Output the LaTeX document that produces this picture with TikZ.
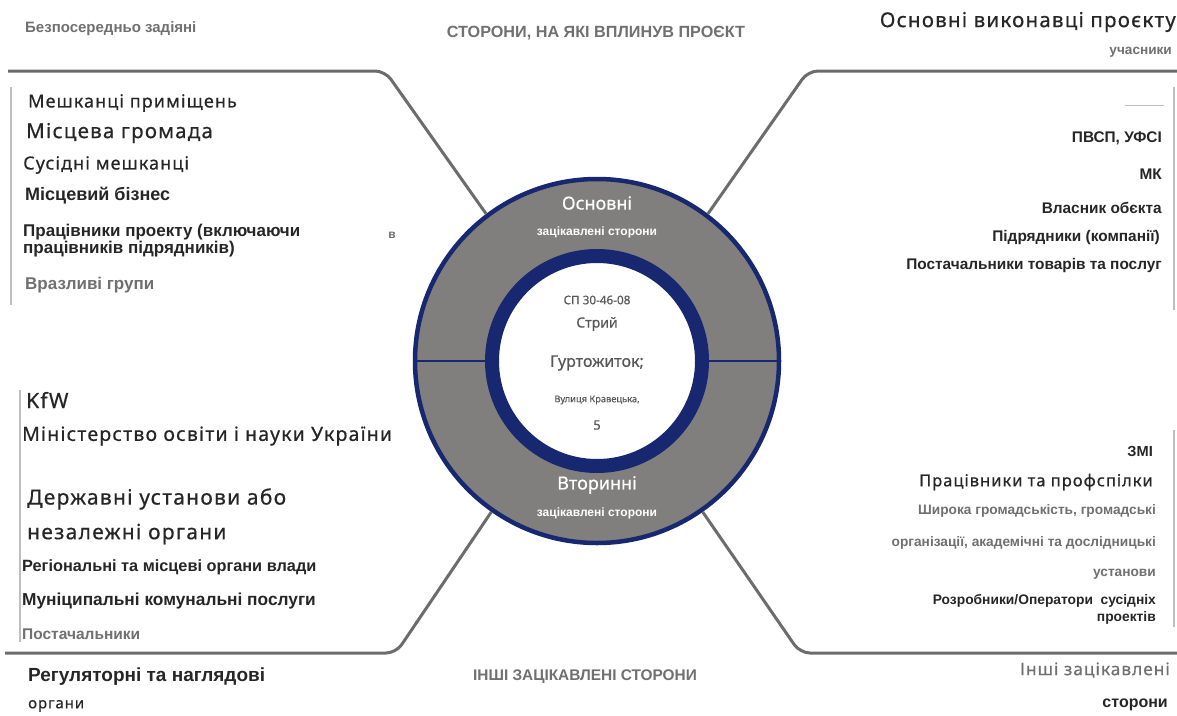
\documentclass[tikz,border=0pt]{standalone}
\usepackage{fontspec}
\setmainfont{Liberation Sans}
\newfontfamily\roundsans[FakeBold=0.4]{Noto Sans}
\newfontfamily\widesans[LetterSpace=6,FakeBold=0.5]{Noto Sans}
\newcommand\fsz[1]{\fontsize{#1}{#1}\selectfont}
\definecolor{navy}{RGB}{24,40,112}
\definecolor{ringgray}{RGB}{128,127,126}
\definecolor{linkgray}{RGB}{108,108,108}
\definecolor{softgray}{RGB}{112,112,112}
\definecolor{darktext}{RGB}{38,38,38}
\definecolor{midtext}{RGB}{88,88,88}
\definecolor{bargray}{RGB}{190,190,190}
\tikzset{
  link/.style={draw=linkgray, line width=3pt, rounded corners=10pt},
  bar/.style={draw=bargray, line width=1.8pt},
  item/.style={inner sep=0pt, text=darktext, font=\bfseries\fsz{15.4}},
  soft/.style={item, text=softgray},
  round/.style={inner sep=0pt, text=darktext, font=\widesans\fsz{#1}},
  inring/.style={inner sep=0pt, text=white, font=\roundsans\fsz{18}},
  subring/.style={inner sep=0pt, text=white, font=\bfseries\fsz{12}},
  core/.style={inner sep=0pt, text=midtext, font=\roundsans\fsz{#1}}
}
\begin{document}
\begin{tikzpicture}[x=1pt,y=-1pt]
\useasboundingbox[fill=white] (0,0) rectangle (1177,715);

\node[circle, draw=navy, line width=4.5pt, fill=ringgray, minimum size=364pt, inner sep=0pt] (ring) at (597,361) {};
\draw[navy, line width=1.2pt] (ring.west) -- (ring.east);
\node[circle, draw=navy, line width=14pt, fill=white, minimum size=210pt, inner sep=0pt] (hub) at (597,361) {};

\coordinate (tl) at (385,71);
\coordinate (tr) at (808,71);
\coordinate (bl) at (396,653);
\coordinate (br) at (800,653);
\draw[link] (ring.127) -- (tl) -- (8,71);
\draw[link] (ring.53) -- (tr) -- (1177,71);
\draw[link] (ring.235) -- (bl) -- (5,653);
\draw[link] (ring.305) -- (br) -- (1177,653);

\draw[bar] (11,87) -- (11,305);
\draw[bar] (20,390) -- (20,642);
\draw[bar] (1174,87) -- (1174,310);
\draw[bar] (1174,430) -- (1174,627);
\draw[bargray, line width=0.8pt] (1125,105) -- (1164,105);

% headers
\node[soft, font=\bfseries\fsz{15}, anchor=west] (direct) at (25,29) {Безпосередньо задіяні};
\node[soft, font=\bfseries\fsz{16.2}] (affected) at (596,33) {СТОРОНИ, НА ЯКІ ВПЛИНУВ ПРОЄКТ};
\node[round=20.5, anchor=east] (mainexec) at (1176,22) {Основні виконавці проєкту};
\node[soft, font=\bfseries\fsz{13.6}, anchor=east] (partic) at (1172,52) {учасники};

% ring
\node[inring] (primary) at (597,203) {Основні};
\node[subring] (primsub) at (597,232) {зацікавлені сторони};
\node[core=11.7] (code) at (597,300) {СП 30-46-08};
\node[core=14] (town) at (597,324) {Стрий};
\node[core=16] (dorm) at (597,363) {Гуртожиток;};
\node[core=9.3] (street) at (597,400) {Вулиця Кравецька,};
\node[core=13] (house) at (597,425) {5};
\node[inring] (secondary) at (597,485) {Вторинні};
\node[subring] (secsub) at (597,513) {зацікавлені сторони};

% directly involved
\node[round=18, anchor=west] (residents) at (28,103) {Мешканці приміщень};
\node[round=20.5, anchor=west] (community) at (26,133) {Місцева громада};
\node[round=18, anchor=west] (neighbours) at (23,165) {Сусідні мешканці};
\node[item, font=\bfseries\fsz{18}, anchor=west] (business) at (25,196) {Місцевий бізнес};
\node[item, align=left, anchor=west, font=\bfseries\fontsize{17}{15}\selectfont] (workers) at (23,240.5) {Працівники проекту (включаючи\\працівників підрядників)};
\node[soft, font=\bfseries\fsz{17}, anchor=west] (vulner) at (25,285) {Вразливі групи};
\node[soft, font=\bfseries\fsz{12}] (stray) at (392,235) {в};

% main executors
\node[item, anchor=east] (pvsp) at (1162,138) {ПВСП, УФСІ};
\node[item, anchor=east] (mk) at (1162,174) {МК};
\node[item, anchor=east] (owner) at (1162,208) {Власник обєкта};
\node[item, anchor=east] (contractors) at (1160,238) {Підрядники (компанії)};
\node[item, anchor=east] (suppliers) at (1162,266) {Постачальники товарів та послуг};

% other parties left
\node[round=21, anchor=west] (kfw) at (26,400) {KfW};
\node[round=19.5, anchor=west] (ministry) at (22,436) {Міністерство освіти і науки України};
\node[round=21, anchor=west] (stateinst) at (27,499) {Державні установи або};
\node[round=21, anchor=west] (indep) at (27,534) {незалежні органи};
\node[item, font=\bfseries\fsz{16.3}, anchor=west] (regional) at (22,567) {Регіональні та місцеві органи влади};
\node[item, font=\bfseries\fsz{17.3}, anchor=west] (utilities) at (22,601) {Муніципальні комунальні послуги};
\node[soft, font=\bfseries\fsz{15.5}, anchor=west] (vendors) at (22,634) {Постачальники};
\node[item, font=\bfseries\fsz{19}, anchor=west] (regul) at (28,677) {Регуляторні та наглядові};
\node[round=15, anchor=west] (bodies) at (28,706) {органи};

% other parties right
\node[item, font=\bfseries\fsz{14.6}, anchor=east] (media) at (1153,451) {ЗМІ};
\node[round=16.5, anchor=east] (unions) at (1153,482) {Працівники та профспілки};
\node[soft, font=\bfseries\fsz{13.7}, anchor=east] (public1) at (1156,511) {Широка громадськість, громадські};
\node[soft, font=\bfseries\fsz{13.7}, anchor=east] (public2) at (1156,543) {організації, академічні та дослідницькі};
\node[soft, font=\bfseries\fsz{13.7}, anchor=east] (public3) at (1156,574) {установи};
\node[item, align=right, anchor=east, font=\bfseries\fontsize{13.8}{17}\selectfont] (developers) at (1156,609.5) {Розробники/Оператори\ \ сусідніх\\проектів};
\node[round=17.2, text=softgray, anchor=east] (others) at (1170,670) {Інші зацікавлені};
\node[item, font=\bfseries\fsz{16}, anchor=east] (othersub) at (1168,705) {сторони};

\node[soft, font=\bfseries\fsz{15.4}] (otherhead) at (585,677) {ІНШІ ЗАЦІКАВЛЕНІ СТОРОНИ};
\end{tikzpicture}
\end{document}
